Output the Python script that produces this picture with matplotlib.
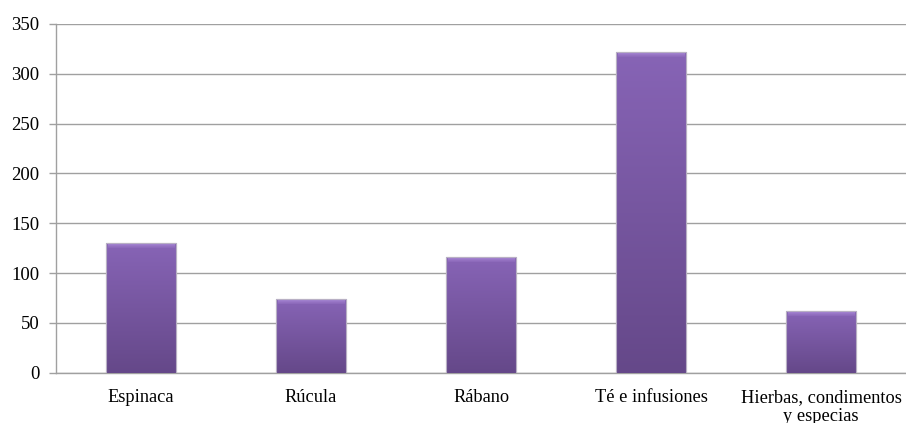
import matplotlib.pyplot as plt
import numpy as np
from matplotlib.colors import LinearSegmentedColormap

categorias = ["Espinaca", "Rúcula", "Rábano", "Té e infusiones",
              "Hierbas, condimentos\ny especias"]
valores = [130, 74, 116, 322, 62]
yticks = [0, 50, 100, 150, 200, 250, 300, 350]

plt.rcParams['font.family'] = ['Liberation Serif', 'DejaVu Serif']

fig = plt.figure(figsize=(9.06, 4.23), dpi=100)
ax = fig.add_axes([56 / 906, 50.3 / 423, 850 / 906, 348.7 / 423])

x = np.arange(len(categorias))
ancho = 0.41

# degradado vertical de las barras (claro arriba, oscuro abajo)
cmap = LinearSegmentedColormap.from_list("morado", ["#654889", "#8764b6"])
grad = np.linspace(0, 1, 256).reshape(-1, 1)
bisel = LinearSegmentedColormap.from_list("bisel", ["#8a67b8", "#a988d6"])

barras = ax.bar(x, valores, width=ancho, color="#7a58a6",
                edgecolor="#b8b0c4", linewidth=0.8, zorder=2)
for b, v in zip(barras, valores):
    x0 = b.get_x()
    im = ax.imshow(grad, cmap=cmap, origin="lower", aspect="auto",
                   extent=[x0, x0 + ancho, 0, v], zorder=3)
    im.set_clip_path(b)
    # bisel claro en la parte superior
    ib = ax.imshow(grad, cmap=bisel, origin="lower", aspect="auto",
                   extent=[x0 + 0.01, x0 + ancho - 0.01, v - 5, v - 0.5],
                   zorder=4)
    ax.plot([x0, x0, x0 + ancho, x0 + ancho], [0, v, v, 0],
            color="#b8b0c4", lw=0.8, zorder=5)

ax.set_xlim(-0.5, len(categorias) - 0.5)
ax.set_ylim(0, 350)
ax.set_yticks(yticks)
ax.set_xticks(x)
ax.set_xticklabels(categorias, fontsize=13.2, linespacing=1.1)
ax.tick_params(axis='y', labelsize=13.5, length=5, color="#a0a0a0",
               width=1, pad=7)
ax.tick_params(axis='x', length=0, pad=12)

ax.yaxis.grid(True, color="#a0a0a0", linewidth=1)
ax.set_axisbelow(True)
for lado in ["top", "right"]:
    ax.spines[lado].set_visible(False)
for lado in ["left", "bottom"]:
    ax.spines[lado].set_color("#a0a0a0")
    ax.spines[lado].set_linewidth(1)

fig.savefig("out.png", dpi=100)
